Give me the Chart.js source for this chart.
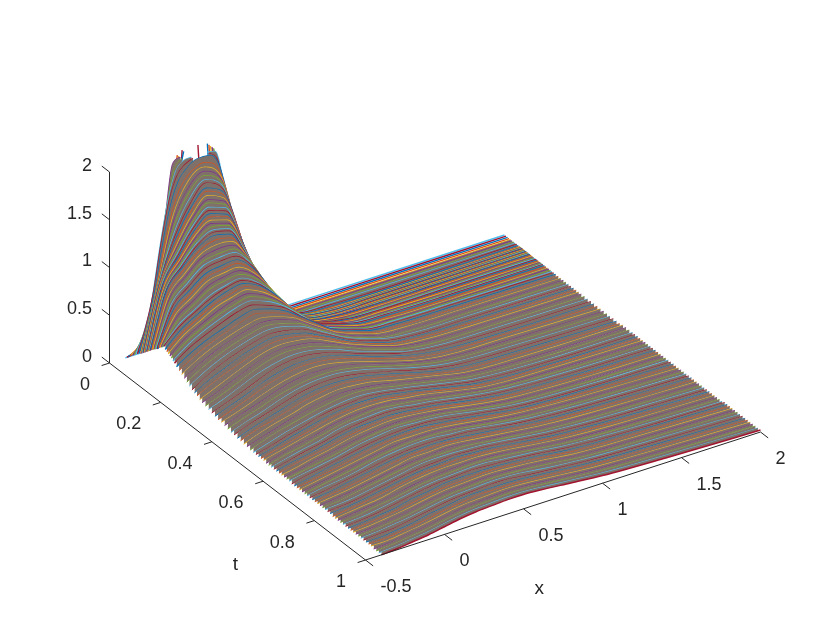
<!DOCTYPE html>
<html>
<head>
<meta charset="utf-8">
<style>body{margin:0;background:#fff}</style>
<script src="https://cdn.jsdelivr.net/npm/chart.js@4"></script>
</head>
<body>
<canvas id="surfaceChart" width="840" height="630"></canvas>
<script>
const N = null;
const xTicks = [-0.5, 0, 0.5, 1, 1.5, 2];
const tTicks = [0, 0.2, 0.4, 0.6, 0.8, 1];
const zTicks = [0, 0.5, 1, 1.5, 2];
const lineColors = ['#0072BD', '#D95319', '#EDB120', '#7E2F8E', '#77AC30', '#4DBEEE', '#A2142F'];

// heights are in hundredths, N = above the z limit (clipped)
const peakXs = [-0.4,-0.35,-0.3,-0.25,-0.2,-0.15,-0.1,-0.05,0,0.05,0.1,0.15,0.2,0.25,0.3,0.35,0.4,0.5,0.6,0.8,2];
const peakTs = [0,0.006,0.012,0.018,0.024,0.03,0.036,0.042,0.048,0.054,0.06];
const peakRows = [
  [0,0,0,0,0,0,0,0,0,0,0,0,0,0,0,0,0,0,0,0,0],
  [2,3,5,8,13,25,70,200,N,200,65,18,5,1,0,0,0,0,0,0,0],
  [4,7,11,19,38,80,160,200,N,N,200,65,18,5,1,0,0,0,0,0,0],
  [6,11,18,35,70,135,200,N,N,N,200,95,35,12,3,1,0,0,0,0,0],
  [8,15,28,55,105,175,200,N,N,N,200,135,58,22,7,2,1,0,0,0,0],
  [9,20,40,80,135,195,200,N,N,N,200,155,80,33,12,4,1,0,0,0,0],
  [11,26,52,100,150,190,200,N,N,N,200,165,98,46,19,7,3,0,0,0,0],
  [13,32,63,115,160,190,199,200,N,200,198,165,107,58,28,13,5,1,0,0,0],
  [14,38,72,122,163,187,196,200,N,200,192,160,112,68,42,28,20,12,3,0,0],
  [16,40,76,122,160,183,193,199,200,199,188,158,115,74,45,30,21,12,3,0,0],
  [17,42,78,120,154,176,187,193,195,192,180,154,116,78,50,33,23,12,4,0,0]
];

const mainXs = [-0.4,-0.3,-0.2,-0.1,0,0.1,0.2,0.3,0.4,0.5,0.6,0.8,1,1.4,2];
const mainTs = [0.062,0.064,0.066,0.068,0.07,0.072,0.074,0.076,0.078,0.08,0.082,0.084,0.086,0.088,0.09,0.092,0.094,0.096,0.098,0.1,
  0.104,0.108,0.112,0.116,0.12,0.124,0.128,0.132,0.136,0.14,0.144,0.148,0.15,
  0.156,0.162,0.168,0.174,0.18,0.186,0.192,0.2,
  0.21,0.22,0.23,0.24,0.25,0.26,0.27,0.28,0.29,0.3,
  0.3125,0.325,0.3375,0.35,0.3625,0.375,0.3875,0.4,0.4125,0.425,0.4375,0.45,0.4625,0.475,0.4875,0.5,
  0.51,0.52,0.53,0.54,0.55,0.56,0.57,0.58,0.59,0.6,0.61,0.62,0.63,0.64,0.65,0.66,0.67,0.68,0.69,0.7,
  0.71,0.72,0.73,0.74,0.75,0.76,0.77,0.78,0.79,0.8,0.81,0.82,0.83,0.84,0.85,0.86,0.87,0.88,0.89,0.9,
  0.91,0.92,0.93,0.94,0.95,0.96,0.97,0.98,0.99,1];
const mainRows = [
  [18,80,149,182,191,177,116,52,24,12,4,0,0,0,0],
  [18,81,144,176,187,174,117,54,25,12,4,0,0,0,0],
  [19,83,139,171,183,171,117,55,26,13,5,0,0,0,0],
  [19,84,134,165,179,168,118,57,27,13,5,0,0,0,0],
  [20,85,130,160,176,165,118,58,28,13,5,0,0,0,0],
  [21,86,127,156,171,162,116,59,29,13,5,0,0,0,0],
  [21,87,125,153,168,159,115,60,30,14,5,0,0,0,0],
  [22,87,122,149,164,156,113,61,31,14,5,0,0,0,0],
  [22,88,120,146,160,153,112,62,32,14,5,0,0,0,0],
  [23,88,118,143,157,150,110,62,32,14,5,0,0,0,0],
  [24,88,116,140,153,147,109,63,33,14,5,0,0,0,0],
  [24,88,114,138,150,144,108,64,33,15,5,0,0,0,0],
  [25,88,113,135,147,141,107,64,34,15,5,0,0,0,0],
  [25,87,111,133,144,139,105,65,34,15,5,0,0,0,0],
  [26,87,110,131,141,136,104,65,35,15,5,0,0,0,0],
  [27,86,109,129,138,133,103,65,35,15,5,0,0,0,0],
  [27,86,107,126,135,131,101,65,35,15,6,0,0,0,0],
  [28,85,106,124,132,128,100,65,36,16,6,1,0,0,0],
  [28,85,105,122,130,126,98,65,36,16,6,1,0,0,0],
  [29,85,104,120,127,123,97,65,36,16,6,1,0,0,0],
  [30,83,102,117,123,120,96,65,37,17,6,1,0,0,0],
  [31,81,99,114,119,117,95,65,37,17,7,1,0,0,0],
  [32,80,97,111,115,114,94,65,38,18,7,1,0,0,0],
  [33,78,94,108,111,111,93,65,38,19,8,1,0,0,0],
  [34,76,92,105,108,108,91,64,38,20,8,1,0,0,0],
  [35,74,89,102,105,105,90,64,39,20,9,2,0,0,0],
  [36,72,86,98,101,102,88,64,39,21,9,2,0,0,0],
  [38,70,83,95,98,99,86,63,40,22,10,2,1,0,0],
  [39,68,80,92,95,96,84,63,40,22,10,2,1,0,0],
  [40,66,77,88,92,93,82,62,40,23,11,2,1,0,0],
  [41,63,74,85,89,90,80,62,41,24,11,2,1,0,0],
  [42,60,70,80,85,87,77,61,41,24,12,3,1,0,0],
  [43,58,68,77,83,85,76,60,41,25,13,3,1,0,0],
  [41,56,66,75,81,83,75,60,41,25,13,3,1,0,0],
  [40,54,64,73,78,81,73,59,41,26,14,3,1,0,0],
  [39,53,62,71,76,79,71,58,41,26,14,4,1,0,0],
  [38,51,60,68,74,76,69,57,41,27,15,4,1,0,0],
  [37,49,58,66,71,74,67,56,41,27,15,4,1,1,0],
  [35,47,56,63,69,71,65,55,41,27,16,4,2,1,0],
  [34,45,53,60,66,68,62,54,40,28,16,5,2,1,0],
  [32,42,50,56,62,65,60,52,40,28,17,5,2,1,0],
  [30,40,48,54,60,63,58,51,40,28,17,5,2,1,0],
  [28,38,46,52,57,60,56,50,39,28,18,6,2,1,0],
  [26,36,44,50,55,58,55,49,39,28,18,6,2,1,0],
  [24,34,42,48,53,56,53,48,38,28,18,6,2,1,0],
  [22,32,40,46,51,54,52,47,38,28,19,7,2,1,0],
  [20,30,38,44,49,52,50,46,37,28,19,7,2,1,0],
  [19,28,35,42,47,50,48,44,36,28,19,7,3,1,0],
  [18,26,33,39,45,48,47,43,36,27,20,8,3,1,0],
  [16,23,30,37,43,46,45,42,35,27,20,8,3,1,0],
  [15,21,28,35,41,44,43,40,34,27,20,9,3,1,0],
  [14,20,27,34,40,43,42,39,33,27,20,9,3,1,0],
  [13,19,26,33,38,41,41,38,33,26,20,9,3,1,0],
  [12,18,24,31,37,40,40,37,32,26,20,10,4,1,0],
  [11,17,23,30,35,38,38,36,32,26,20,10,4,1,0],
  [10,16,22,29,34,37,37,35,31,26,20,10,4,2,0],
  [10,15,21,27,32,35,36,34,30,25,20,10,4,2,0],
  [9,15,20,26,31,34,34,33,30,25,20,11,5,2,0],
  [8,14,19,25,29,32,33,32,29,25,20,11,5,2,0],
  [7,13,18,24,29,32,33,32,29,25,20,11,5,2,0],
  [7,13,18,23,28,31,32,31,28,24,20,11,5,2,0],
  [6,12,17,22,27,30,31,30,28,24,20,11,5,2,0],
  [6,12,16,21,26,29,31,30,27,24,20,11,5,2,0],
  [5,11,16,20,25,28,30,29,27,23,19,12,5,2,1],
  [5,10,15,20,24,27,29,28,26,23,19,12,6,2,1],
  [4,10,15,19,23,26,28,28,26,22,19,12,6,2,1],
  [4,9,14,18,22,25,27,27,25,22,19,12,6,2,1],
  [4,8,13,17,22,25,26,27,25,22,19,12,6,2,1],
  [4,8,13,17,21,24,26,26,25,22,19,12,6,2,1],
  [4,8,12,16,21,24,25,26,24,21,19,12,6,3,1],
  [4,8,12,16,20,23,25,25,24,21,19,12,6,3,1],
  [3,8,12,15,20,23,24,25,24,21,18,12,6,3,1],
  [3,8,11,15,19,22,24,25,23,21,18,12,7,3,1],
  [3,7,11,14,19,22,23,24,23,20,18,12,7,3,1],
  [3,7,11,14,18,21,23,24,23,20,18,12,7,3,1],
  [3,7,10,14,18,21,22,23,22,20,18,12,7,3,1],
  [3,7,10,13,17,20,22,23,22,20,18,12,7,3,1],
  [3,6,10,13,17,20,22,23,22,20,18,12,7,3,1],
  [3,6,10,13,16,19,21,22,22,20,18,12,7,3,1],
  [3,6,9,12,16,19,21,22,21,20,18,12,7,3,1],
  [3,6,9,12,16,19,21,22,21,20,18,12,7,3,1],
  [2,6,9,12,15,18,20,21,21,20,17,12,7,3,1],
  [2,5,9,12,15,18,20,21,21,19,17,12,7,4,1],
  [2,5,8,11,15,18,20,21,21,19,17,12,7,4,1],
  [2,5,8,11,14,17,20,20,20,19,17,12,8,4,1],
  [2,5,8,11,14,17,19,20,20,19,17,12,8,4,1],
  [2,5,8,11,14,17,19,20,20,19,17,12,8,4,1],
  [2,5,7,10,14,17,19,20,20,18,17,12,8,4,1],
  [2,4,7,10,13,16,18,19,19,18,17,12,8,4,1],
  [2,4,7,10,13,16,18,19,19,18,16,12,8,4,1],
  [2,4,6,9,13,16,18,19,19,18,16,12,8,4,1],
  [2,4,6,9,12,15,18,18,19,18,16,12,8,4,1],
  [2,4,6,9,12,15,17,18,19,18,16,12,8,4,1],
  [2,3,6,9,12,15,17,18,18,18,16,12,8,4,1],
  [2,3,5,8,11,14,17,18,18,17,16,12,8,4,1],
  [2,3,5,8,11,14,16,17,18,17,16,12,8,4,1],
  [2,3,5,8,11,14,16,17,18,17,16,12,8,4,1],
  [1,3,5,8,11,14,16,17,18,17,16,12,8,4,1],
  [1,3,5,7,11,14,16,17,17,17,16,12,8,4,1],
  [1,3,5,7,10,13,15,16,17,17,16,12,8,4,1],
  [1,2,5,7,10,13,15,16,17,17,16,12,8,4,1],
  [1,2,4,7,10,13,15,16,17,17,15,12,8,4,1],
  [1,2,4,7,10,13,15,16,17,16,15,12,8,4,2],
  [1,2,4,6,10,12,15,16,16,16,15,12,8,5,2],
  [1,2,4,6,9,12,14,15,16,16,15,12,8,5,2],
  [1,2,4,6,9,12,14,15,16,16,15,12,8,5,2],
  [1,2,4,6,9,12,14,15,16,16,15,12,8,5,2],
  [1,2,4,6,9,12,14,15,16,16,15,12,8,5,2],
  [1,2,4,6,9,12,14,15,16,16,15,11,8,5,2],
  [1,2,3,6,9,12,14,15,16,16,14,11,8,5,2],
  [1,1,3,5,9,11,14,15,15,15,14,11,8,5,2],
  [1,1,3,5,8,11,13,15,15,15,14,11,8,5,2],
  [1,1,3,5,8,11,13,14,15,15,14,11,8,5,2],
  [0,1,3,5,8,11,13,14,15,15,14,11,8,5,2],
  [0,1,3,5,8,11,13,14,15,15,14,11,8,5,2],
  [0,1,3,5,8,11,13,14,15,15,14,11,8,5,2],
  [0,1,3,5,8,11,13,14,15,15,14,11,8,5,2]
];

// fixed view of the 3d box, gives canvas coordinates
const project = (x, t, z) => ({
    x: 109.5 + (x + 0.5) * 158 + t * 256,
    y: 363 - (x + 0.5) * 51.2 + t * 197 - z * 95.5
});

const rowDataset = (xs, t, row, i, total) => ({
    data: row.map((h, j) => {
        const p = project(xs[j], t, h === N ? 0 : h / 100);
        return { x: p.x, y: h === N ? N : p.y };
    }),
    borderColor: lineColors[(i + 7 * total - (total - 1) + 6) % 7],
    borderWidth: t >= 1 ? 1.5 : t > 0.2 ? 1 : 1.4,
    pointRadius: 0,
    cubicInterpolationMode: 'monotone',
    // rows bunch up and spread apart, so close the gaps between them
    fill: t >= 0.03 ? '-1' : false,
    backgroundColor: '#80706a',
    order: total - i + 1
});

const total = peakTs.length + mainTs.length;
const datasets = [];
peakTs.forEach((t, i) => datasets.push(rowDataset(peakXs, t, peakRows[i], i, total)));
mainTs.forEach((t, i) => datasets.push(rowDataset(mainXs, t, mainRows[i], i + peakTs.length, total)));

const axisLine = (a, b) => ({
    data: [a, b],
    borderColor: '#262626',
    borderWidth: 1,
    pointRadius: 0,
    fill: false,
    order: 0
});

datasets.push(axisLine(project(-0.5, 0, 0), project(-0.5, 0, 2)));
datasets.push(axisLine(project(-0.5, 0, 0), project(-0.5, 1, 0)));
datasets.push(axisLine(project(-0.5, 1, 0), project(2, 1, 0)));
zTicks.forEach(z => datasets.push(axisLine(project(-0.5, 0, z), project(-0.5, -0.03, z))));
tTicks.forEach(t => datasets.push(axisLine(project(-0.5, t, 0), project(-0.55, t, 0))));
xTicks.forEach(x => datasets.push(axisLine(project(x, 1, 0), project(x, 1.03, 0))));

const axisText = {
    id: 'axisText',
    afterDraw(chart) {
        const { ctx, scales } = chart;
        const put = (p, dx, dy, text, align) => {
            ctx.textAlign = align;
            ctx.fillText(text, scales.x.getPixelForValue(p.x) + dx, scales.y.getPixelForValue(p.y) + dy);
        };
        ctx.save();
        ctx.fillStyle = '#262626';
        ctx.font = '18px "Liberation Sans"';
        ctx.textBaseline = 'middle';
        zTicks.forEach(z => put(project(-0.5, 0, z), -17.5, -6, String(z), 'right'));
        tTicks.forEach(t => put(project(-0.5, t, 0), -19.5, 22, String(t), 'right'));
        xTicks.forEach(x => put(project(x, 1, 0), 15, 27, String(x), 'left'));
        ctx.font = '19px "Liberation Sans"';
        put(project(-0.5, 0.5, 0), -2, 103, 't', 'center');
        put(project(0.6, 1, 0), 0, 85, 'x', 'center');
        ctx.restore();
    }
};

new Chart(document.getElementById('surfaceChart').getContext('2d'), {
    type: 'scatter',
    data: { datasets },
    plugins: [axisText],
    options: {
        responsive: false,
        animation: false,
        showLine: true,
        layout: { padding: 0 },
        plugins: { legend: { display: false }, tooltip: { enabled: false } },
        scales: {
            x: { type: 'linear', min: 0, max: 840, display: false },
            y: { type: 'linear', min: 0, max: 630, reverse: true, display: false }
        }
    }
});
</script>
</body>
</html>
